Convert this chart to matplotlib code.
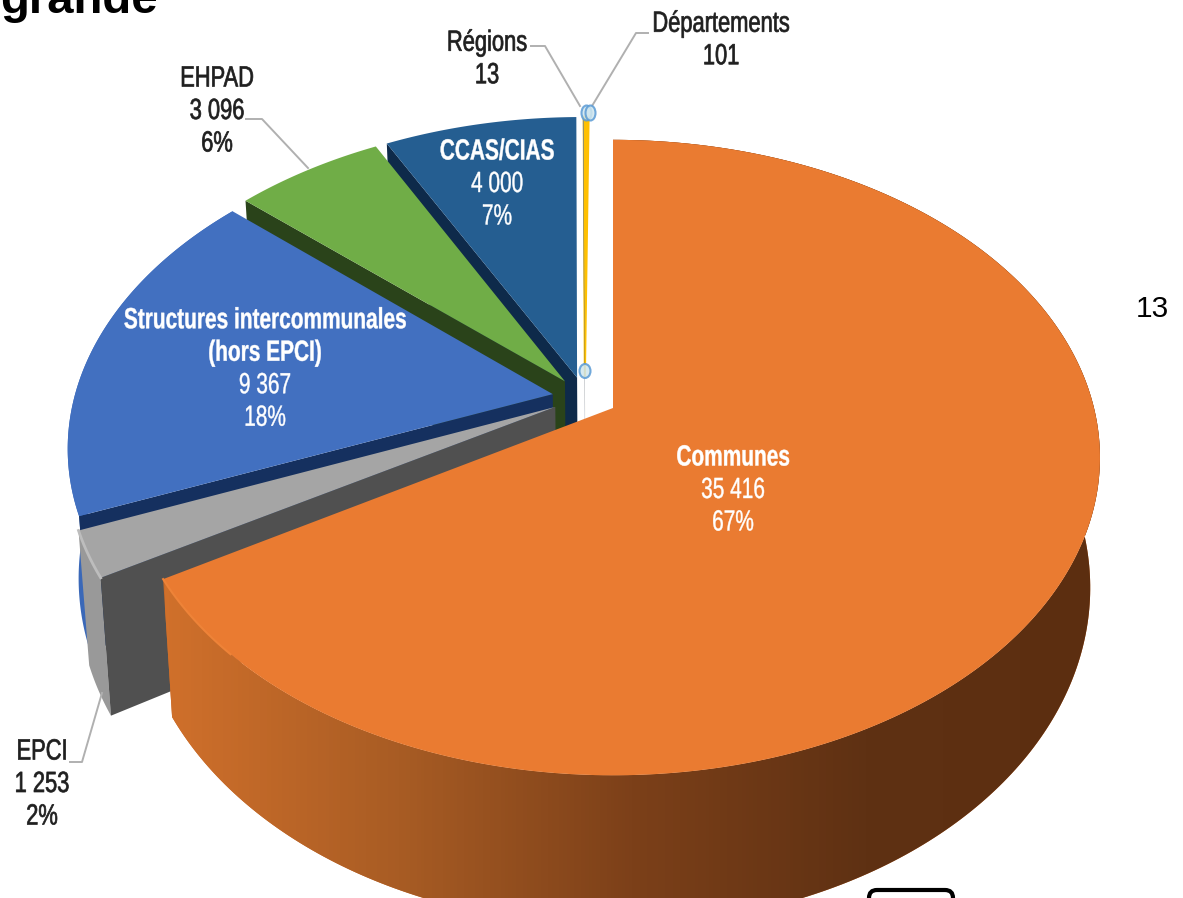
import numpy as np
import matplotlib
matplotlib.use("Agg")
import matplotlib.pyplot as plt
from matplotlib.colors import LinearSegmentedColormap
from matplotlib.patches import Ellipse, FancyBboxPatch, Polygon
from matplotlib.patheffects import AbstractPathEffect
from matplotlib.transforms import Affine2D

categories = ["Communes", "EPCI", "Structures", "EHPAD", "CCAS/CIAS", "Régions", "Départements"]
values = [35416, 1253, 9367, 3096, 4000, 13, 101]
top_colors = ["#EA7B31", "#A5A5A5", "#4270C0", "#70AD47", "#255E91", "#4472C4", "#FFC000"]
wall_colors = ["#C96A28", "#505050", "#15305F", "#2A431A", "#0E2A4A", "#1F3864", "#DDA520"]
rim_colors = ["#C96A28", "#999999", "#3A68B8"]

# perspective of the pie plane, in picture pixels
cx, cy = 613, 408
A, B, k = 481, 310, 0.156
depth = 127
explode = 0.068


class Squeeze(AbstractPathEffect):
    # the labels are in a very narrow face, none is installed
    def __init__(self, x0, sx, stroke=0.0):
        self.x0 = x0
        self.sx = sx
        self.stroke = stroke

    def draw_path(self, renderer, gc, tpath, affine, rgbFace=None):
        sq = Affine2D().translate(-self.x0, 0).scale(self.sx, 1).translate(self.x0, 0)
        gc0 = renderer.new_gc()
        gc0.copy_properties(gc)
        gc0.set_linewidth(self.stroke)
        renderer.draw_path(gc0, tpath, affine + sq, rgbFace)
        gc0.restore()


def project(X, Y, low=False):
    s = 1 / (1 + k * Y)
    x = cx + A * X * s * (0.98 if low else 1)
    y = cy - B * Y * s + (depth * s if low else 0)
    return np.column_stack([x, y])


fig = plt.figure(figsize=(11.83, 8.98), dpi=100)
ax = fig.add_axes([0, 0, 1, 1])
ax.set_xlim(0, 1183)
ax.set_ylim(898, 0)
ax.axis("off")

total = sum(values)
starts = np.cumsum([0] + values[:-1]) / total * 2 * np.pi
ends = np.cumsum(values) / total * 2 * np.pi
mid0 = (starts[0] + ends[0]) / 2
X0 = -explode * np.sin(mid0)
Y0 = -explode * np.cos(mid0)

side_cmap = LinearSegmentedColormap.from_list(
    "side", ["#D0702B", "#A85C24", "#7C4019", "#5F3113", "#5C2E10"])

for i in [6, 5, 4, 3, 2, 1, 0]:
    z = 10 + (6 - i) * 3
    mid = (starts[i] + ends[i]) / 2
    ax0 = X0 + explode * np.sin(mid)
    ay0 = Y0 + explode * np.cos(mid)
    t = np.linspace(starts[i], ends[i], 300)
    X = ax0 + np.sin(t)
    Y = ay0 + np.cos(t)
    top_rim = project(X, Y)
    low_rim = project(X, Y, low=True)
    apex = project(np.array([ax0]), np.array([ay0]))
    apex_low = project(np.array([ax0]), np.array([ay0]), low=True)

    # outer rim, only the three front slices show one
    if i <= 2:
        rim = Polygon(np.vstack([top_rim, low_rim[::-1]]), closed=True, fc=rim_colors[i], ec="none", zorder=z)
        ax.add_patch(rim)
        if i == 0:
            grad = np.linspace(0, 1, 256).reshape(1, -1)
            im = ax.imshow(grad, extent=[165, 1100, 898, 0], cmap=side_cmap, aspect="auto", zorder=z + 0.5)
            im.set_clip_path(rim)
            ax.set_xlim(0, 1183)
            ax.set_ylim(898, 0)

    # radial wall on the start edge
    wall = np.vstack([apex, top_rim[:1], low_rim[:1], apex_low])
    ax.add_patch(Polygon(wall, closed=True, fc=wall_colors[i], ec="none", zorder=z + 1 if i else z - 1))

    # top face
    ax.add_patch(Polygon(np.vstack([apex, top_rim]), closed=True, fc=top_colors[i],
                         ec=top_colors[i] if i == 6 else "none", lw=1.5 if i == 6 else 0, zorder=z + 2))
    if i == 0:
        front = t > np.pi * 1.25
        ax.plot(top_rim[front, 0], top_rim[front, 1], color="#EE8338", lw=1.5, zorder=z + 2.5)
    if i == 1:
        ax.plot(top_rim[:, 0], top_rim[:, 1], color="#BDBDBD", lw=2, zorder=z + 2.5)

# leader lines
leaders = [
    ([531, 545, 580], [46, 46, 106]),
    ([648, 636, 592], [33, 33, 106]),
    ([246, 262, 308], [119, 119, 168]),
    ([70, 82, 102], [762, 762, 693]),
]
for lx, ly in leaders:
    ax.plot(lx, ly, color="#B0B0B0", lw=1.4, zorder=40)

# small ring markers of the thin slices
for ex, ey, ew, eh in [(586.5, 113, 10, 15), (590.5, 113, 10, 15), (585, 371, 11, 14)]:
    ax.add_patch(Ellipse((ex, ey), ew, eh, fc="#CFE6EE", ec="#5B9BD5", lw=1.5, alpha=0.85, zorder=41))

white_labels = [
    ("Communes\n35 416\n67%", 733, 490, 1),
    ("Structures intercommunales\n(hors EPCI)\n9 367\n18%", 265, 369, 2),
    ("CCAS/CIAS\n4 000\n7%", 497, 184, 1),
]
dark_labels = [
    ("EHPAD\n3 096\n6%", 217, 111),
    ("Régions\n13", 487, 59),
    ("Départements\n101", 721, 40),
    ("EPCI\n1 253\n2%", 42, 784),
]
line_step = 32.5
for txt, x, y, n_bold in white_labels:
    lines = txt.split("\n")
    for j, line in enumerate(lines):
        bold = j < n_bold
        ax.text(x, y + (j - (len(lines) - 1) / 2) * line_step, line, color="white", ha="center", va="center",
                family="Liberation Sans", fontsize=21, fontweight="bold" if bold else "normal",
                path_effects=[Squeeze(x, 0.715, 0.3)], zorder=50)
for txt, x, y in dark_labels:
    lines = txt.split("\n")
    for j, line in enumerate(lines):
        ax.text(x, y + (j - (len(lines) - 1) / 2) * line_step, line, color="#1F1F1F", ha="center", va="center",
                family="Liberation Sans", fontsize=21, path_effects=[Squeeze(x, 0.75, 0.5)], zorder=50)

# pieces of the surrounding page
ax.text(0, 13, "grande", family="Liberation Sans", fontweight="bold", fontsize=34,
        color="black", ha="left", va="baseline", zorder=60)
ax.text(1152, 309, "13", family="Liberation Sans", fontsize=21.5, color="black",
        ha="center", va="center", zorder=60)
ax.add_patch(FancyBboxPatch((869, 890), 84, 20, boxstyle="round,pad=0,rounding_size=8",
                            fc="white", ec="black", lw=3, zorder=60))

fig.savefig("out.png", dpi=100)
